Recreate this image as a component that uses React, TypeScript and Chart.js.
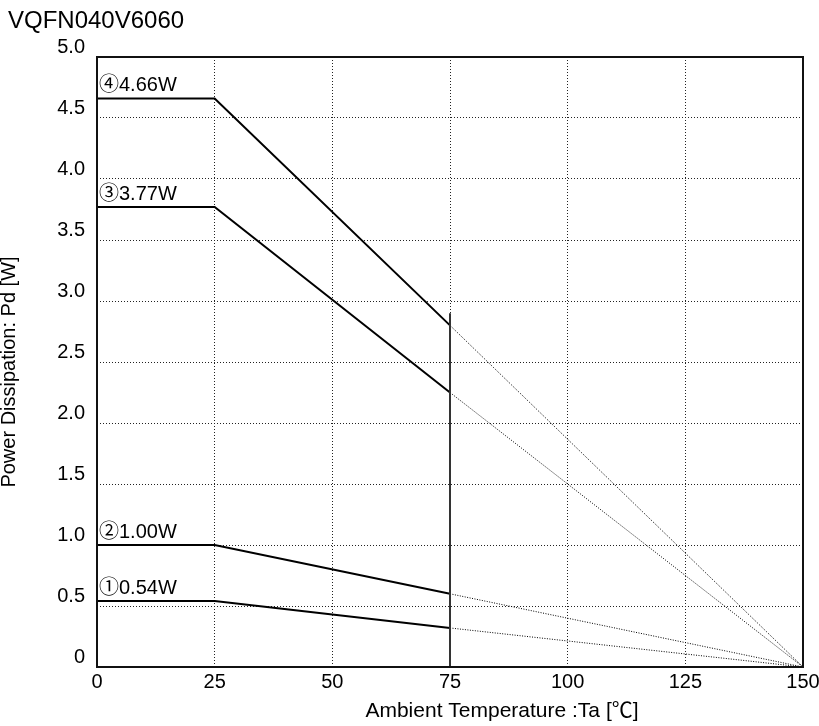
import { useEffect, useRef } from 'react';
import { Chart, registerables } from 'chart.js';

Chart.register(...registerables);

const chartTitle = 'VQFN040V6060';
const xAxisTitle = 'Ambient Temperature :Ta [℃]';
const yAxisTitle = 'Power Dissipation: Pd [W]';

const xTicks = [0, 25, 50, 75, 100, 125, 150];
const yTicks = [0, 0.5, 1.0, 1.5, 2.0, 2.5, 3.0, 3.5, 4.0, 4.5, 5.0];
const yTickLabels = ['0', '0.5', '1.0', '1.5', '2.0', '2.5', '3.0', '3.5', '4.0', '4.5', '5.0'];

const seriesMarks = ['①', '②', '③', '④'];
const seriesPower = [0.54, 1.0, 3.77, 4.66];
const seriesPowerAt75 = [0.32, 0.6, 2.25, 2.8];

const flatEndTemp = 25;
const cutoffTemp = 75;
const zeroTemp = 150;
const cutoffLineTop = 2.9;

const FONT = 'Arial, "Liberation Sans", "Noto Sans CJK JP", Helvetica, sans-serif';

export default function App() {
  const canvasRef = useRef<HTMLCanvasElement | null>(null);

  useEffect(() => {
    const canvas = canvasRef.current;
    if (!canvas) return;

    const datasets: any[] = [];
    seriesPower.forEach((p, i) => {
      datasets.push({
        label: 'ext' + i,
        data: [
          { x: cutoffTemp, y: seriesPowerAt75[i] },
          { x: zeroTemp, y: 0 },
        ],
        borderColor: '#000',
        borderWidth: 1,
        borderDash: [1, 1.5],
        pointRadius: 0,
        order: 3,
      });
    });
    seriesPower.forEach((p, i) => {
      datasets.push({
        label: 'series' + i,
        data: [
          { x: 0, y: p },
          { x: flatEndTemp, y: p },
          { x: cutoffTemp, y: seriesPowerAt75[i] },
        ],
        borderColor: '#000',
        borderWidth: 2,
        pointRadius: 0,
        order: 2,
      });
    });
    datasets.push({
      label: 'cutoff',
      data: [
        { x: cutoffTemp, y: 0 },
        { x: cutoffTemp, y: cutoffLineTop },
      ],
      borderColor: '#333',
      borderWidth: 2,
      pointRadius: 0,
      order: 1,
    });

    const boxPlugin = {
      id: 'boxAndText',
      afterDraw(chart: any) {
        const ctx = chart.ctx;
        const a = chart.chartArea;
        const xs = chart.scales.x;
        const ys = chart.scales.y;
        ctx.save();
        // plot frame
        ctx.strokeStyle = '#111';
        ctx.lineWidth = 2;
        ctx.strokeRect(a.left, a.top, a.right - a.left, a.bottom - a.top);

        ctx.fillStyle = '#000';
        // chart title
        ctx.font = `24px ${FONT}`;
        ctx.textAlign = 'left';
        ctx.textBaseline = 'middle';
        ctx.fillText(chartTitle, 8, 21);

        // annotations
        ctx.font = `20px ${FONT}`;
        ctx.textBaseline = 'alphabetic';
        seriesPower.forEach((p, i) => {
          const y = ys.getPixelForValue(p);
          ctx.fillText(seriesMarks[i] + p.toFixed(2) + 'W', xs.getPixelForValue(0) + 2, y - 7);
        });

        // x axis title
        ctx.font = `21px ${FONT}`;
        ctx.textAlign = 'center';
        ctx.textBaseline = 'middle';
        ctx.fillText(xAxisTitle, 502, 711);

        // y axis title
        ctx.font = `20px ${FONT}`;
        ctx.translate(9, 372);
        ctx.rotate(-Math.PI / 2);
        ctx.fillText(yAxisTitle, 0, 0);
        ctx.restore();
      },
    };

    const chart = new Chart(canvas, {
      type: 'line',
      data: { datasets },
      options: {
        responsive: false,
        animation: false,
        layout: { padding: { left: 0, top: 57, right: 16, bottom: 0 } },
        plugins: {
          legend: { display: false },
          tooltip: { enabled: false },
          title: { display: false },
        },
        scales: {
          x: {
            type: 'linear',
            min: 0,
            max: 150,
            afterBuildTicks: (scale: any) => {
              scale.ticks = xTicks.map((v) => ({ value: v }));
            },
            afterFit: (scale: any) => {
              scale.height = 59;
              scale.paddingRight = 0;
              scale.paddingLeft = 0;
            },
            ticks: {
              color: '#000',
              font: { family: FONT, size: 20 },
              padding: 3,
              maxRotation: 0,
              autoSkip: false,
              callback: (v: any) => String(v),
            },
            grid: { color: '#222', lineWidth: 1, drawTicks: false },
            border: { display: false, dash: [1, 2] },
          },
          y: {
            type: 'linear',
            min: 0,
            max: 5,
            afterBuildTicks: (scale: any) => {
              scale.ticks = yTicks.map((v) => ({ value: v }));
            },
            afterFit: (scale: any) => {
              scale.width = 97;
              scale.paddingTop = 0;
              scale.paddingBottom = 0;
            },
            ticks: {
              color: '#000',
              font: { family: FONT, size: 20 },
              padding: 12,
              labelOffset: -10,
              autoSkip: false,
              callback: (v: any) => {
                const idx = yTicks.indexOf(Number(v));
                return idx >= 0 ? yTickLabels[idx] : '';
              },
            },
            grid: { color: '#222', lineWidth: 1, drawTicks: false },
            border: { display: false, dash: [1, 2] },
          },
        },
      },
      plugins: [boxPlugin],
    });

    return () => chart.destroy();
  }, []);

  return (
    <div style={{ position: 'absolute', left: 0, top: 0, width: 819, height: 726, background: '#fff' }}>
      <canvas ref={canvasRef} width={819} height={726} style={{ display: 'block' }} />
    </div>
  );
}
